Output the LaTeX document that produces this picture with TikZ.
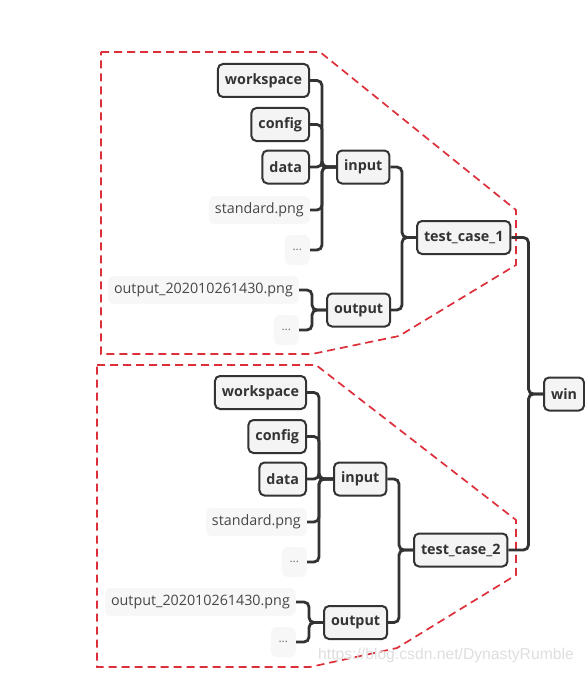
\documentclass[tikz,border=0pt]{standalone}
\usepackage{fontspec}
\setmainfont{Open Sans}
\newfontfamily\wmfont{Liberation Sans}
\usetikzlibrary{calc}
\definecolor{ink}{HTML}{333333}
\definecolor{boxfill}{HTML}{F4F4F4}
\definecolor{softfill}{HTML}{F7F7F7}
\definecolor{redline}{HTML}{DC2F3A}
\tikzset{
  topic/.style={draw=ink, line width=2pt, fill=boxfill, rounded corners=5pt,
    minimum height=33pt, inner xsep=7pt, inner ysep=0pt, text=ink,
    font=\fontsize{14.3}{16}\selectfont\bfseries},
  leaf/.style={fill=softfill, rounded corners=6pt, minimum height=28pt,
    inner xsep=6pt, inner ysep=0pt, text=ink!90,
    font=\fontsize{14.3}{16}\selectfont},
  dots/.style={fill=softfill, rounded corners=6pt, minimum height=30pt,
    minimum width=25pt, inner xsep=4pt, inner ysep=0pt, text=ink!70,
    font=\fontsize{12}{14}\selectfont},
  conn/.style={draw=ink, line width=2.8pt, rounded corners=5pt},
  zone/.style={draw=redline, line width=1.7pt, dash pattern=on 8pt off 5pt}
}
\begin{document}
\begin{tikzpicture}[x=1pt,y=-1pt]
\useasboundingbox (0,0) rectangle (584,674);
% dashed zones
\draw[zone] (101,52) -- (320,52) -- (516,210) -- (516,265) -- (399,336) -- (312,354) -- (101,354) -- cycle;
\draw[zone] (97,365) -- (316,365) -- (516,520) -- (516,575) -- (397,648) -- (310,667) -- (97,667) -- cycle;

% group 1
\node[topic, anchor=east] (ws1) at (310,80.5) {workspace};
\node[topic, anchor=east] (cf1) at (310,124.5) {config};
\node[topic, anchor=east] (da1) at (310,167) {data};
\node[leaf, anchor=east] (sp1) at (310,210) {standard.png};
\node[dots, anchor=east] (d11) at (310,250) {...};
\node[topic, anchor=west] (in1) at (336,167) {input};
\node[leaf, anchor=east] (op1) at (299,290) {output\_202010261430.png};
\node[dots, anchor=east] (d21) at (299,330) {...};
\node[topic, anchor=west] (ou1) at (326,310) {output};
\node[topic, anchor=west] (tc1) at (416,237.5) {test\_case\_1};

% group 2
\node[topic, anchor=east] (ws2) at (307,392.5) {workspace};
\node[topic, anchor=east] (cf2) at (307,436.5) {config};
\node[topic, anchor=east] (da2) at (307,479) {data};
\node[leaf, anchor=east] (sp2) at (307,522) {standard.png};
\node[dots, anchor=east] (d12) at (307,562) {...};
\node[topic, anchor=west] (in2) at (333,479) {input};
\node[leaf, anchor=east] (op2) at (296,602) {output\_202010261430.png};
\node[dots, anchor=east] (d22) at (296,642) {...};
\node[topic, anchor=west] (ou2) at (323,622.5) {output};
\node[topic, anchor=west] (tc2) at (413,550) {test\_case\_2};

\node[topic, anchor=west] (win) at (543,394) {win};

% connectors group 1
\foreach \c in {ws1,cf1,da1,sp1,d11}
  \draw[conn] (\c.east) -| ($(in1.west)+(-14,0)$) -- (in1.west);
\foreach \c in {op1,d21}
  \draw[conn] (\c.east) -| ($(ou1.west)+(-14,0)$) -- (ou1.west);
\foreach \c in {in1,ou1}
  \draw[conn] (\c.east) -| ($(tc1.west)+(-14,0)$) -- (tc1.west);
% connectors group 2
\foreach \c in {ws2,cf2,da2,sp2,d12}
  \draw[conn] (\c.east) -| ($(in2.west)+(-14,0)$) -- (in2.west);
\foreach \c in {op2,d22}
  \draw[conn] (\c.east) -| ($(ou2.west)+(-14,0)$) -- (ou2.west);
\foreach \c in {in2,ou2}
  \draw[conn] (\c.east) -| ($(tc2.west)+(-14,0)$) -- (tc2.west);
% to win
\foreach \c in {tc1,tc2}
  \draw[conn] (\c.east) -| ($(win.west)+(-14.5,0)$) -- (win.west);

% watermark
\node[text=black!13, font=\wmfont\fontsize{15.7}{18}\selectfont] (wm) at (446,655) {https://blog.csdn.net/DynastyRumble};
\end{tikzpicture}
\end{document}
